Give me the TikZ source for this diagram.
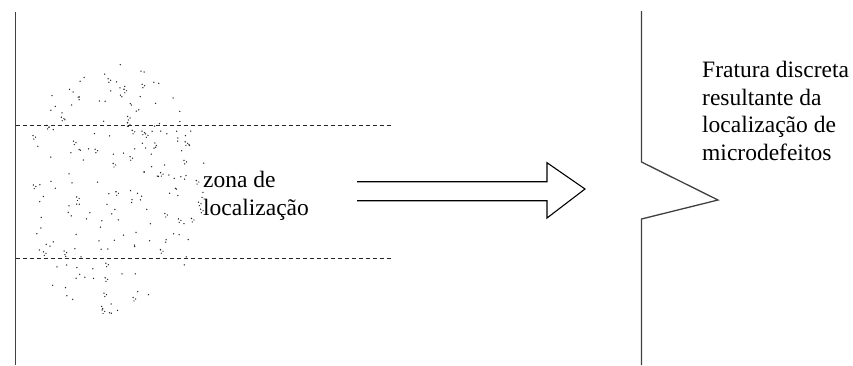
\documentclass[tikz,border=0pt]{standalone}
\usepackage{fontspec}
\setmainfont{Liberation Serif}
\newfontfamily\tnrfont{Liberation Serif}
\begin{document}
\begin{tikzpicture}[x=1pt,y=-1pt,
  wall/.style={line width=1.3pt, draw=black!75},
  band/.style={line width=0.9pt, draw=black!85, dash pattern=on 4pt off 3pt},
  bigarrow/.style={line width=1.1pt, draw=black, line join=miter},
  lbl/.style={anchor=north west, inner sep=0pt, align=left,
    font=\tnrfont\fontsize{23.5}{27.5}\selectfont},
  dot/.style={fill=black!85}]
\useasboundingbox (0,0) rectangle (853,365);
% specimen walls
\coordinate (lt) at (15.5,12);
\coordinate (lb) at (15.5,365);
\draw[wall] (lt) -- (lb);
% localization band
\coordinate (d1a) at (15.5,125);
\coordinate (d1b) at (393,125);
\coordinate (d2a) at (15.5,258);
\coordinate (d2b) at (393,258);
\draw[band] (d1a) -- (d1b);
\draw[band] (d2a) -- (d2b);
% microdefects (scattered dots)
\pgfmathsetseed{4711}
\foreach \i in {1,...,170}{
  \pgfmathsetmacro\ang{rnd*360}
  \pgfmathsetmacro\rad{sqrt(rnd)}
  \pgfmathsetmacro\xx{112+95*\rad*cos(\ang)}
  \pgfmathsetmacro\px{33+abs(\xx-33)}
  \pgfmathsetmacro\py{190+126*\rad*sin(\ang)}
  \fill[dot] (\px,\py) circle (0.75);
}
\pgfmathsetseed{915}
\foreach \i in {1,...,35}{
  \pgfmathsetmacro\ang{rnd*360}
  \pgfmathsetmacro\rad{sqrt(rnd)}
  \pgfmathsetmacro\xx{112+92*\rad*cos(\ang)}
  \pgfmathsetmacro\px{33+abs(\xx-33)}
  \pgfmathsetmacro\py{190+122*\rad*sin(\ang)}
  \fill[dot] (\px,\py) circle (0.8);
  \fill[dot] (\px+2.5,\py+1.5) circle (0.7);
  \fill[dot] (\px+0.8,\py+3.5) circle (0.7);
}
% label of the band
\node[lbl] (zona) at (203,171) {zona de\\localização};
% block arrow
\draw[bigarrow] (357,181.7) -- (547,181.7) -- (547,162.7) -- (585,189)
  -- (547,218) -- (547,200.7) -- (357,200.7);
% discrete fracture
\coordinate (rt) at (641.5,11);
\coordinate (r1) at (641.5,162);
\coordinate (rtip) at (718,200);
\coordinate (r2) at (641.5,219);
\coordinate (rb) at (641.5,365);
\draw[wall, line join=miter] (rt) -- (r1) -- (rtip) -- (r2) -- (rb);
\node[lbl] (frat) at (702,61.3) {Fratura discreta\\resultante da\\localização de\\microdefeitos};
\end{tikzpicture}
\end{document}
